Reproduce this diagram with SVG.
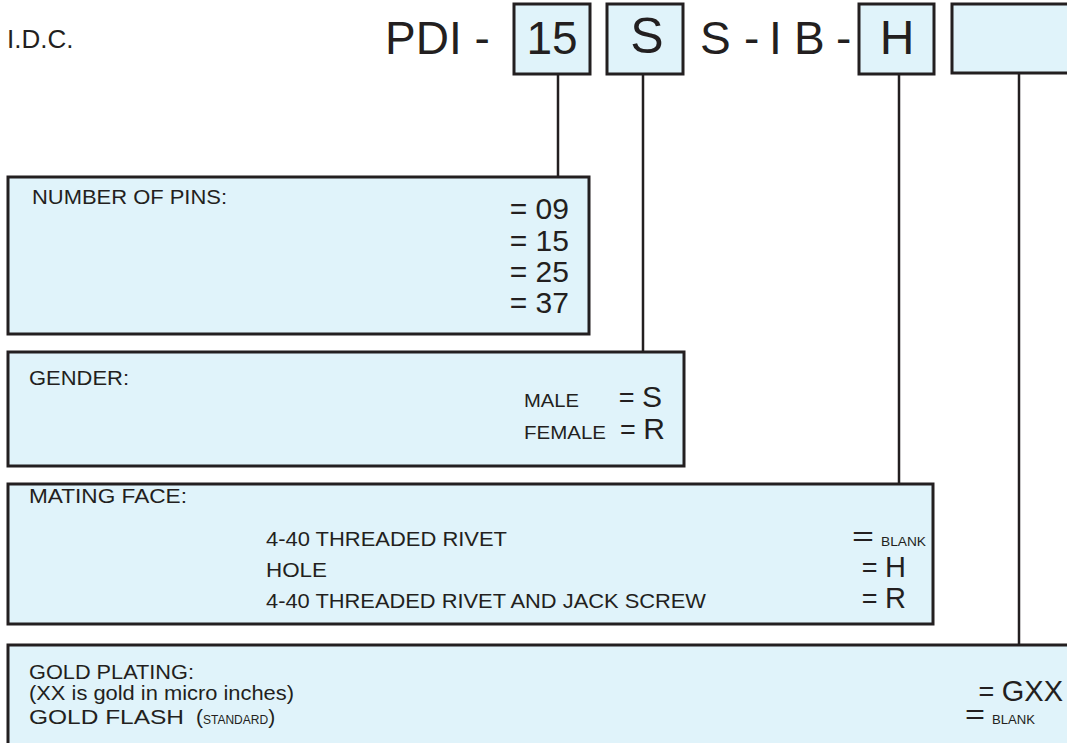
<svg xmlns="http://www.w3.org/2000/svg" width="1067" height="743" viewBox="0 0 1067 743">
<style>
text{font-family:"Liberation Sans",Arial,Helvetica,sans-serif;fill:#231f20}
.box{fill:#e0f3fa;stroke:#231f20;stroke-width:3}
.con{fill:none;stroke:#231f20;stroke-width:2.5}
.big{font-size:46px}
.lbl{font-size:21px}
.val{font-size:30px}
.cap{font-size:18px}
.eq{font-size:27px}
.sm{font-size:12px}
.r{text-anchor:end}
</style>
<rect width="1067" height="743" fill="#ffffff"/>
<g id="connectors">
<line class="con" x1="558" y1="74" x2="558" y2="177"/>
<line class="con" x1="643" y1="74" x2="643" y2="352"/>
<line class="con" x1="899" y1="74" x2="899" y2="484"/>
<line class="con" x1="1019" y1="73" x2="1019" y2="645"/>
</g>
<g id="title">
<text x="7" y="48" style="font-size:26px">I.D.C.</text>
<text class="big" x="385" y="54">PDI -</text>
<text class="big" y="54"><tspan x="700">S</tspan><tspan x="744">-</tspan><tspan x="769">I</tspan><tspan x="794">B</tspan><tspan x="836">-</tspan></text>
</g>
<g id="code-pins">
<rect class="box" x="514" y="4" width="76" height="70"/>
<text class="big" x="552" y="54" text-anchor="middle">15</text>
</g>
<g id="code-gender">
<rect class="box" x="607" y="4" width="76" height="70"/>
<text x="647" y="53" text-anchor="middle" style="font-size:50px">S</text>
</g>
<g id="code-face">
<rect class="box" x="859" y="4" width="75" height="70"/>
<text x="897" y="54" text-anchor="middle" style="font-size:48px">H</text>
</g>
<g id="code-plating">
<rect class="box" x="952" y="4" width="125" height="69"/>
</g>
<g id="pins">
<rect class="box" x="8" y="177" width="581" height="157"/>
<text class="lbl" x="32" y="204" textLength="195" lengthAdjust="spacingAndGlyphs">NUMBER OF PINS:</text>
<text class="val r" x="569" y="219">= 09</text>
<text class="val r" x="569" y="251">= 15</text>
<text class="val r" x="569" y="282">= 25</text>
<text class="val r" x="569" y="313">= 37</text>
</g>
<g id="gender">
<rect class="box" x="8" y="352" width="676" height="114"/>
<text class="lbl" x="29" y="385" textLength="100" lengthAdjust="spacingAndGlyphs">GENDER:</text>
<text class="cap" x="524" y="407" textLength="55" lengthAdjust="spacingAndGlyphs">MALE</text>
<text class="eq r" x="662" y="407">= <tspan style="font-size:30px">S</tspan></text>
<text class="cap" x="524" y="439" textLength="82" lengthAdjust="spacingAndGlyphs">FEMALE</text>
<text class="eq r" x="665" y="439">= <tspan style="font-size:30px">R</tspan></text>
</g>
<g id="mating-face">
<rect class="box" x="8" y="484" width="925" height="140"/>
<text class="lbl" x="29" y="503" textLength="158" lengthAdjust="spacingAndGlyphs">MATING FACE:</text>
<text class="lbl" x="266" y="546" textLength="241" lengthAdjust="spacingAndGlyphs">4-40 THREADED RIVET</text>
<text class="lbl" x="266" y="577" textLength="61" lengthAdjust="spacingAndGlyphs">HOLE</text>
<text class="lbl" x="266" y="608" textLength="440" lengthAdjust="spacingAndGlyphs">4-40 THREADED RIVET AND JACK SCREW</text>
<text class="eq" x="852" y="546" textLength="22" lengthAdjust="spacingAndGlyphs">=</text>
<text class="sm" x="881" y="546" textLength="45" lengthAdjust="spacingAndGlyphs">BLANK</text>
<text class="eq r" x="906" y="577">= <tspan style="font-size:29px">H</tspan></text>
<text class="eq r" x="906" y="608">= <tspan style="font-size:29px">R</tspan></text>
</g>
<g id="plating">
<rect class="box" x="8" y="645" width="1070" height="110"/>
<text class="lbl" x="29" y="679" style="font-size:20px" textLength="165" lengthAdjust="spacingAndGlyphs">GOLD PLATING:</text>
<text class="lbl" x="29" y="700" style="font-size:20px" textLength="265" lengthAdjust="spacingAndGlyphs">(XX is gold in micro inches)</text>
<text class="lbl" x="29" y="724"><tspan textLength="155" lengthAdjust="spacingAndGlyphs">GOLD FLASH</tspan><tspan x="196">(</tspan><tspan style="font-size:12px">STANDARD</tspan>)</text>
<text class="eq r" x="1063" y="701">= <tspan style="font-size:29px">GXX</tspan></text>
<text class="eq" x="965" y="724" textLength="20" lengthAdjust="spacingAndGlyphs">=</text>
<text class="sm" x="992" y="724" textLength="43" lengthAdjust="spacingAndGlyphs">BLANK</text>
</g>
</svg>
